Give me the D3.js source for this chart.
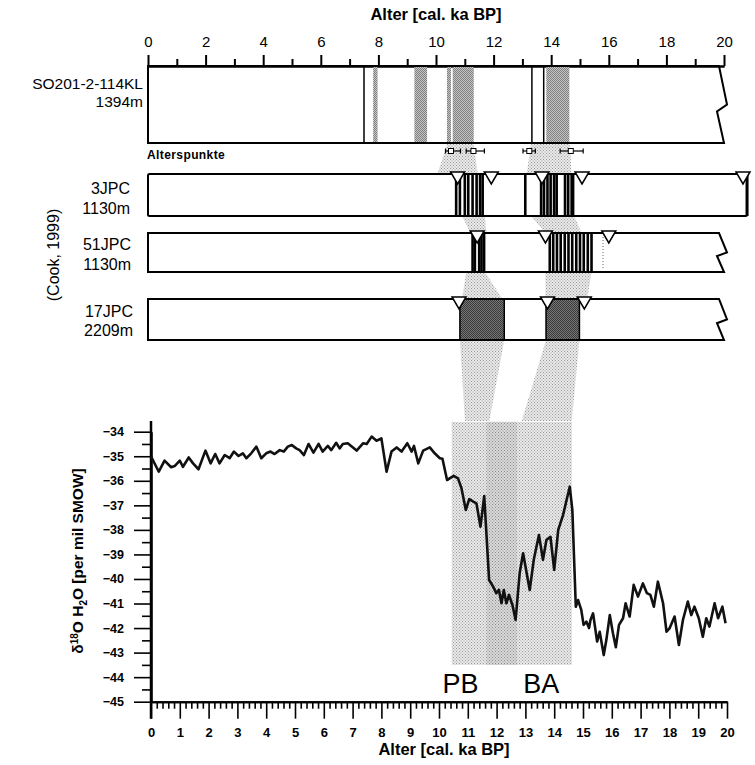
<!DOCTYPE html>
<html>
<head>
<meta charset="utf-8">
<script src="https://cdn.jsdelivr.net/npm/d3@7"></script>
<style>
body{margin:0;background:#fff;}
text{font-family:"Liberation Sans",Arial,sans-serif;fill:#000;}
</style>
</head>
<body>
<script>
// ---- data (ages in cal. ka BP) ----
const topTickValues = [0,1,2,3,4,5,6,7,8,9,10,11,12,13,14,15,16,17,18,19,20];
const topTickLabels = [0,2,4,6,8,10,12,14,16,18,20];

// SO201-2-114KL
const soBands = [[7.82,7.97],[9.25,9.69],[10.38,10.52],[10.58,11.31],[13.83,14.63]];
const soLines = [7.5,13.33,13.74];
const agePoint = [10.52,11.3,13.24,14.68];
const ageLow = [10.33,11.05,13.02,14.31];
const ageHigh = [10.85,11.68,13.45,15.11];

// Cook (1999) cores
const jpc3Laminae = [10.7,10.83,11.0,11.12,11.27,11.41,11.53,11.62,13.1,13.65,13.75,13.87,13.98,14.1,14.19,14.48,14.59,14.71,14.76];
const jpc3Markers = [10.75,11.92,13.68,15.07,20.66];
const jpc3End = 20.8;
const jpc51Laminae = [11.27,11.35,11.5,11.58,11.67,13.95,14.07,14.2,14.33,14.47,14.6,14.73,14.87,15.0,15.13,15.27,15.4];
const jpc51Markers = [11.43,13.8,16.0];
const jpc51Dotted = [15.8];
const jpc17Blocks = [[10.83,12.37],[13.82,14.98]];
const jpc17Markers = [10.8,13.87,15.15];

// correlation bands between cores [upper start, upper end, lower start, lower end]
const linkSoTo3 = [[10.4,11.3,10.05,11.45],[13.3,14.65,13.15,14.7]];
const link3To51 = [[10.9,11.7,11.2,11.75],[13.3,14.8,13.8,15.05]];
const link51To17 = [[11.05,11.7,10.9,12.3],[13.8,15.4,13.8,15.25]];
const link17ToIso = [[10.83,12.37,10.9,11.75],[13.82,14.98,12.87,14.61]];

// delta18O H2O record
const isoAge = [0.0,0.27,0.47,0.7,0.82,1.0,1.11,1.31,1.46,1.65,1.89,2.07,2.23,2.38,2.56,2.73,2.88,3.04,3.19,3.31,
  3.48,3.66,3.83,4.0,4.15,4.29,4.47,4.61,4.75,4.89,5.04,5.16,5.31,5.47,5.64,5.82,5.96,6.14,6.26,6.43,
  6.55,6.66,6.83,6.97,7.14,7.37,7.49,7.66,7.83,8.0,8.18,8.35,8.53,8.7,8.9,9.05,9.13,9.28,9.45,9.68,
  9.85,10.03,10.12,10.28,10.37,10.51,10.66,10.78,10.93,11.05,11.19,11.3,11.44,11.57,11.74,11.88,11.99,12.08,12.17,12.25,
  12.34,12.43,12.55,12.66,12.8,12.92,13.15,13.29,13.47,13.61,13.73,13.87,14.0,14.14,14.31,14.43,14.54,14.63,14.75,14.83,
  14.94,15.02,15.12,15.21,15.26,15.35,15.49,15.58,15.72,15.81,15.93,16.04,16.14,16.25,16.39,16.48,16.62,16.76,16.91,17.08,
  17.22,17.34,17.46,17.6,17.78,17.9,18.01,18.18,18.33,18.47,18.64,18.76,18.87,19.02,19.16,19.28,19.39,19.57,19.69,19.84,19.95];
const isoVal = [-35.0,-35.63,-35.18,-35.45,-35.4,-35.18,-35.43,-35.05,-35.29,-35.53,-34.77,-35.29,-34.91,-35.29,-34.95,-35.08,-34.81,-34.99,-34.88,-35.08,
  -34.88,-34.61,-35.08,-34.88,-34.81,-34.91,-34.75,-34.81,-34.61,-34.54,-34.68,-34.75,-34.95,-34.5,-34.85,-34.5,-34.81,-34.58,-34.75,-34.45,
  -34.68,-34.5,-34.47,-34.6,-34.77,-34.47,-34.5,-34.2,-34.37,-34.27,-35.63,-34.81,-34.64,-34.81,-34.47,-34.81,-34.58,-35.29,-34.77,-34.64,
  -34.88,-35.08,-35.1,-35.97,-35.9,-35.8,-35.9,-36.3,-37.19,-36.75,-36.85,-36.92,-37.87,-36.62,-40.04,-40.31,-40.58,-40.44,-40.99,-40.45,
  -40.99,-40.65,-41.06,-41.67,-39.77,-38.95,-40.45,-39.22,-38.21,-39.22,-38.41,-38.28,-39.63,-38.0,-37.39,-36.78,-36.24,-37.19,-41.13,-40.86,
  -41.26,-41.87,-41.74,-42.0,-41.67,-41.4,-42.55,-42.15,-43.1,-42.49,-41.47,-42.21,-42.78,-41.87,-41.6,-40.99,-41.53,-40.24,-40.72,-40.18,
  -40.58,-40.65,-41.13,-40.11,-40.99,-42.15,-42.0,-41.53,-42.69,-41.67,-40.92,-41.47,-41.13,-41.6,-42.35,-41.6,-41.94,-40.99,-41.6,-41.13,-41.8];

const isoYTicks = [-45,-44,-43,-42,-41,-40,-39,-38,-37,-36,-35,-34];
const isoXTicks = [0,1,2,3,4,5,6,7,8,9,10,11,12,13,14,15,16,17,18,19,20];
const shadeAge = [10.44,14.61];
const shadeDarkAge = [11.65,12.7];
const shadeVal = [-43.5,-33.6];
const periodLabels = ["PB","BA"];
const periodAge = [10.75,13.55];

// ---- layout ----
const width = 755, height = 765;
const xTop = d3.scaleLinear().domain([0,20]).range([148,724]);
const xBot = d3.scaleLinear().domain([0,20]).range([151,727]);
const yBot = d3.scaleLinear().domain([-45,-34]).range([701.7,431.7]);
const rowSo = [66,143], row3 = [174,216], row51 = [233,272], row17 = [299,340];
const isoTop = 421;

const svg = d3.select("body").append("svg")
	.attr("width",width)
	.attr("height",height);

// stipple textures
const defs = svg.append("defs");
function stipple(id, bg, dot, size){
	const p = defs.append("pattern")
		.attr("id",id).attr("patternUnits","userSpaceOnUse")
		.attr("width",size).attr("height",size);
	p.append("rect").attr("width",size).attr("height",size).attr("fill",bg);
	p.append("rect").attr("x",0).attr("y",0).attr("width",1).attr("height",1).attr("fill",dot);
	p.append("rect").attr("x",size/2).attr("y",size/2).attr("width",1).attr("height",1).attr("fill",dot);
}
stipple("light","#eaeaea","#9a9a9a",3);
stipple("mid","#dadada","#8a8a8a",3);
stipple("band","#c4c4c4","#808080",2);
stipple("dark","#767676","#3a3a3a",2);

function zig_path(x0, xr, top, bot){
	const h = bot - top;
	return d3.line()([[x0,top],[xr-5,top],[xr+3,top+0.5*h],[xr-7,top+0.59*h],[xr,bot],[x0,bot]]) + "Z";
}

function draw_links(links, yA, yB, scaleA, scaleB, fill){
	svg.append("g").selectAll("path")
		.data(links)
		.join("path")
		.attr("d", function(d){
			return d3.line()([[scaleA(d[0]),yA],[scaleA(d[1]),yA],[scaleB(d[3]),yB],[scaleB(d[2]),yB]]) + "Z";
		})
		.attr("fill", fill)
		.attr("stroke","none");
}

function draw_laminae(vals, row, w){
	svg.append("g").selectAll("line")
		.data(vals)
		.join("line")
		.attr("x1", d => xTop(d)).attr("x2", d => xTop(d))
		.attr("y1", row[0]).attr("y2", row[1])
		.attr("stroke","#000")
		.attr("stroke-width", w);
}

function draw_markers(vals, row){
	svg.append("g").selectAll("path")
		.data(vals)
		.join("path")
		.attr("d", function(d){
			const x = xTop(d);
			return d3.line()([[x-7,row[0]-2],[x+7,row[0]-2],[x,row[0]+10]]) + "Z";
		})
		.attr("fill","#fff")
		.attr("stroke","#000")
		.attr("stroke-width",1.5);
}

function core_label(lines, xr, ys, size){
	const t = svg.append("g");
	lines.forEach(function(s,i){
		t.append("text")
			.attr("x",xr).attr("y",ys[i])
			.attr("text-anchor","end")
			.style("font-size",size+"px")
			.text(s);
	});
}

// ---- correlation shading ----
draw_links(linkSoTo3, rowSo[1], row3[0], xTop, xTop, "url(#light)");
draw_links(link3To51, row3[1], row51[0], xTop, xTop, "url(#light)");
draw_links(link51To17, row51[1], row17[0], xTop, xTop, "url(#light)");
draw_links(link17ToIso, row17[1], isoTop, xTop, xBot, "url(#light)");

svg.append("rect")
	.attr("x", xBot(shadeAge[0]))
	.attr("y", yBot(shadeVal[1]))
	.attr("width", xBot(shadeAge[1]) - xBot(shadeAge[0]))
	.attr("height", yBot(shadeVal[0]) - yBot(shadeVal[1]))
	.attr("fill","url(#light)");
svg.append("rect")
	.attr("x", xBot(shadeDarkAge[0]))
	.attr("y", yBot(shadeVal[1]))
	.attr("width", xBot(shadeDarkAge[1]) - xBot(shadeDarkAge[0]))
	.attr("height", yBot(shadeVal[0]) - yBot(shadeVal[1]))
	.attr("fill","url(#mid)");

// ---- top axis ----
svg.append("text")
	.attr("x",436).attr("y",20)
	.attr("text-anchor","middle")
	.style("font-size","16.5px").style("font-weight","bold")
	.text("Alter [cal. ka BP]");

const axTopMinor = svg.append("g")
	.attr("transform","translate(0,"+rowSo[0]+")")
	.call(d3.axisTop(xTop).tickValues(topTickValues.filter(d => d%2==1)).tickSize(7).tickSizeOuter(0).tickFormat(""));
const axTopMajor = svg.append("g")
	.attr("transform","translate(0,"+rowSo[0]+")")
	.call(d3.axisTop(xTop).tickValues(topTickLabels).tickSize(11).tickSizeOuter(0).tickPadding(8));
[axTopMinor, axTopMajor].forEach(function(a){
	a.selectAll("line").attr("stroke","#000").attr("stroke-width",2);
	a.select(".domain").attr("stroke","#000").attr("stroke-width",2);
	a.selectAll("text").style("font-size","15px").style("font-family","Liberation Sans, Arial, sans-serif");
});

// ---- SO201-2-114KL ----
svg.append("g").selectAll("rect")
	.data(soBands)
	.join("rect")
	.attr("x", d => xTop(d[0]))
	.attr("y", rowSo[0])
	.attr("width", d => xTop(d[1]) - xTop(d[0]))
	.attr("height", rowSo[1]-rowSo[0])
	.attr("fill","url(#band)");
draw_laminae(soLines, rowSo, 1.5);
svg.append("path")
	.attr("d", zig_path(xTop(0), xTop(20), rowSo[0], rowSo[1]))
	.attr("fill","none").attr("stroke","#000").attr("stroke-width",2);
core_label(["SO201-2-114KL","1394m"], 143, [89,107], 15.5);

// age control points
svg.append("text")
	.attr("x",147).attr("y",159)
	.style("font-size","12px").style("font-weight","bold")
	.style("letter-spacing","0.4px")
	.text("Alterspunkte");
const ep = svg.append("g");
agePoint.forEach(function(a,i){
	const y = 151;
	ep.append("line").attr("x1",xTop(ageLow[i])).attr("x2",xTop(ageHigh[i])).attr("y1",y).attr("y2",y)
		.attr("stroke","#000").attr("stroke-width",1.2);
	[ageLow[i],ageHigh[i]].forEach(function(e){
		ep.append("line").attr("x1",xTop(e)).attr("x2",xTop(e)).attr("y1",y-2.5).attr("y2",y+2.5)
			.attr("stroke","#000").attr("stroke-width",1.2);
	});
	ep.append("rect").attr("x",xTop(a)-2.5).attr("y",y-2.5).attr("width",5).attr("height",5)
		.attr("fill","#fff").attr("stroke","#000").attr("stroke-width",1);
});

// ---- 3JPC ----
draw_laminae(jpc3Laminae, row3, 2.6);
svg.append("rect")
	.attr("x",xTop(0)).attr("y",row3[0])
	.attr("width",xTop(jpc3End)-xTop(0)).attr("height",row3[1]-row3[0])
	.attr("fill","none").attr("stroke","#000").attr("stroke-width",2).attr("rx",1.5);
svg.append("line")
	.attr("x1",xTop(jpc3End)).attr("x2",xTop(jpc3End)).attr("y1",row3[0]).attr("y2",row3[1])
	.attr("stroke","#000").attr("stroke-width",3);
draw_markers(jpc3Markers, row3);
core_label(["3JPC","1130m"], 130, [194,214], 16);

// ---- 51JPC ----
draw_laminae(jpc51Laminae, row51, 2.6);
svg.append("g").selectAll("line")
	.data(jpc51Dotted)
	.join("line")
	.attr("x1", d => xTop(d)).attr("x2", d => xTop(d))
	.attr("y1", row51[0]+4).attr("y2", row51[1]-4)
	.attr("stroke","#666").attr("stroke-width",1).attr("stroke-dasharray","1,2");
svg.append("path")
	.attr("d", zig_path(xTop(0), xTop(20), row51[0], row51[1]))
	.attr("fill","none").attr("stroke","#000").attr("stroke-width",2);
draw_markers(jpc51Markers, row51);
core_label(["51JPC","1130m"], 131, [250,270], 16);

// ---- 17JPC ----
svg.append("g").selectAll("rect")
	.data(jpc17Blocks)
	.join("rect")
	.attr("x", d => xTop(d[0]))
	.attr("y", row17[0])
	.attr("width", d => xTop(d[1]) - xTop(d[0]))
	.attr("height", row17[1]-row17[0])
	.attr("fill","url(#dark)")
	.attr("stroke","#000").attr("stroke-width",1.5);
svg.append("path")
	.attr("d", zig_path(xTop(0), xTop(20), row17[0], row17[1]))
	.attr("fill","none").attr("stroke","#000").attr("stroke-width",2);
draw_markers(jpc17Markers, row17);
core_label(["17JPC","2209m"], 133, [317,336], 16);

svg.append("text")
	.attr("transform","translate(59,255) rotate(-90)")
	.attr("text-anchor","middle")
	.style("font-size","16px")
	.text("(Cook, 1999)");

// ---- isotope record ----
const axY = svg.append("g")
	.attr("transform","translate("+xBot(0)+",0)")
	.call(d3.axisLeft(yBot).tickValues(isoYTicks).tickSize(17).tickSizeOuter(0).tickPadding(10).tickFormat(d3.format("d")));
const axYMinor = svg.append("g")
	.attr("transform","translate("+xBot(0)+",0)")
	.call(d3.axisLeft(yBot).tickValues(isoYTicks.slice(1).map(d => d-0.5)).tickSize(9).tickSizeOuter(0).tickFormat(""));
const axX = svg.append("g")
	.attr("transform","translate(0,"+yBot(-45)+")")
	.call(d3.axisBottom(xBot).tickValues(isoXTicks).tickSize(17).tickSizeOuter(0).tickPadding(9));
const axXMinor = svg.append("g")
	.attr("transform","translate(0,"+yBot(-45)+")")
	.call(d3.axisBottom(xBot).tickValues(d3.range(0,100).filter(i => i%5!=0).map(i => i/5)).tickSize(7).tickSizeOuter(0).tickFormat(""));
[axY, axYMinor, axX, axXMinor].forEach(function(a){
	a.selectAll("line").attr("stroke","#000").attr("stroke-width",1.6);
	a.select(".domain").attr("stroke","#000").attr("stroke-width",2);
	a.selectAll("text").style("font-family","Liberation Sans, Arial, sans-serif").style("font-weight","bold");
});
axY.selectAll("text").style("font-size","12.5px");
axX.selectAll("text").style("font-size","13px");
svg.append("line")
	.attr("x1",xBot(0)).attr("x2",xBot(0)).attr("y1",isoTop).attr("y2",yBot(-45)+17)
	.attr("stroke","#000").attr("stroke-width",2.5);

svg.append("path")
	.datum(isoAge.map((a,i) => [a,isoVal[i]]))
	.attr("d", d3.line().x(d => xBot(d[0])).y(d => yBot(d[1])))
	.attr("fill","none")
	.attr("stroke","#111")
	.attr("stroke-width",2.6)
	.attr("stroke-linejoin","round");

svg.append("g").selectAll("text")
	.data(periodLabels)
	.join("text")
	.attr("x", (d,i) => xBot(periodAge[i]))
	.attr("y", 693)
	.attr("text-anchor","middle")
	.style("font-size","27px")
	.text(d => d);

svg.append("text")
	.attr("x",444).attr("y",755)
	.attr("text-anchor","middle")
	.style("font-size","16.5px").style("font-weight","bold")
	.text("Alter [cal. ka BP]");

const yt = svg.append("text")
	.attr("transform","translate(83,561) rotate(-90)")
	.attr("text-anchor","middle")
	.style("font-size","15.5px").style("font-weight","bold");
yt.append("tspan").text("δ");
yt.append("tspan").attr("dy",-5).style("font-size","10px").text("18");
yt.append("tspan").attr("dy",5).text("O H");
yt.append("tspan").attr("dy",4).style("font-size","10px").text("2");
yt.append("tspan").attr("dy",-4).text("O [per mil SMOW]");
</script>
</body>
</html>
